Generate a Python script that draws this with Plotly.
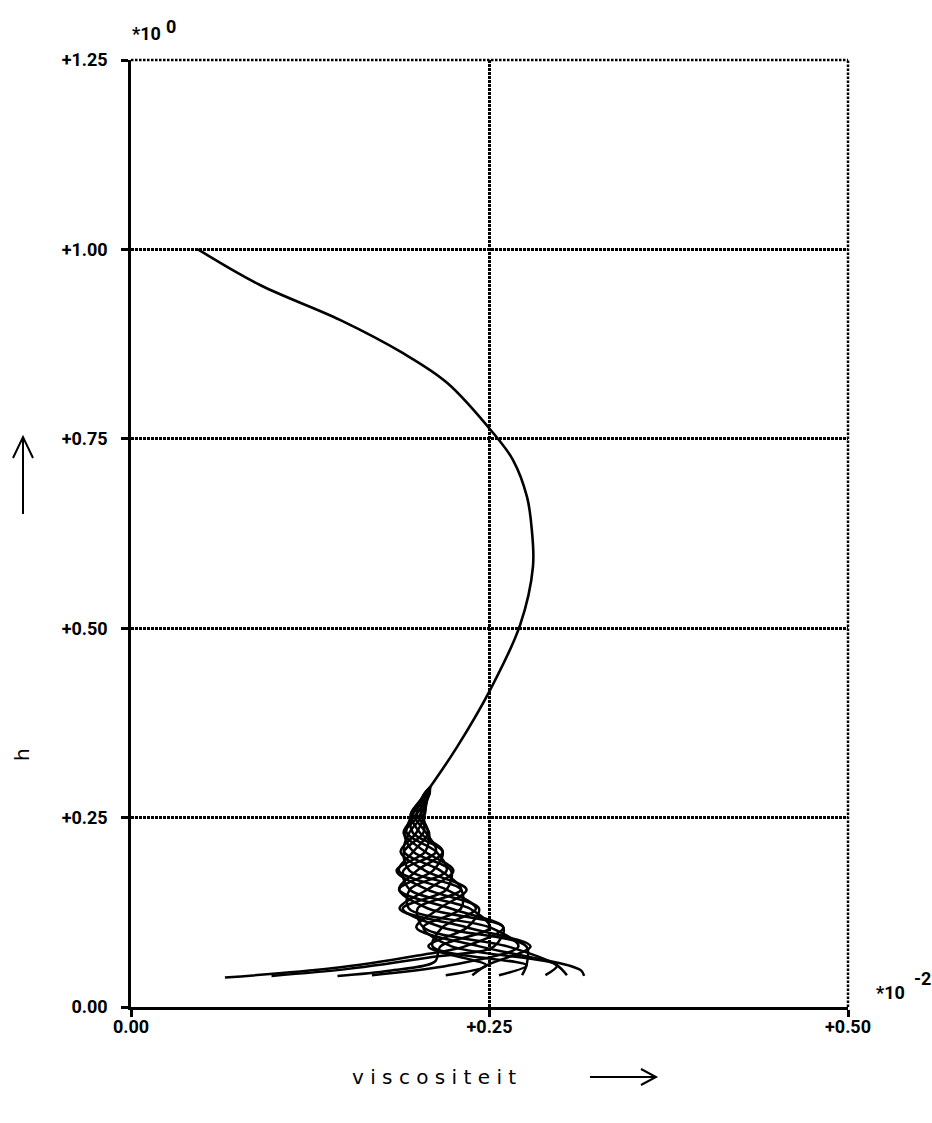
import plotly.graph_objects as go

# ---- data -------------------------------------------------------------
# upper part of the viscosity profile (common to all time levels)
H_MAIN = [1.000, 0.953, 0.907, 0.863, 0.824, 0.758, 0.722, 0.673, 0.630,
          0.581, 0.504, 0.418, 0.343, 0.290]
X_MAIN = [0.0467, 0.0900, 0.1457, 0.1897, 0.2204, 0.2524, 0.2664, 0.2762,
          0.2795, 0.2803, 0.2713, 0.2503, 0.2273, 0.2085]

# near-bed part: heights shared by all time levels
H_NEAR = [0.290, 0.280, 0.255, 0.230, 0.205, 0.180, 0.155, 0.130, 0.105, 0.080]

# viscosity at H_NEAR for each time level
X_T01 = [0.2085, 0.2060, 0.2050, 0.1990, 0.1880, 0.2050, 0.2340, 0.2150, 0.1990, 0.2430]
X_T02 = [0.2085, 0.2071, 0.2042, 0.1941, 0.1904, 0.2158, 0.2302, 0.1999, 0.2039, 0.2625]
X_T03 = [0.2085, 0.2078, 0.2021, 0.1908, 0.1968, 0.2232, 0.2200, 0.1895, 0.2171, 0.2757]
X_T04 = [0.2085, 0.2080, 0.1993, 0.1901, 0.2051, 0.2248, 0.2066, 0.1873, 0.2344, 0.2786]
X_T05 = [0.2085, 0.2075, 0.1967, 0.1922, 0.2128, 0.2201, 0.1943, 0.1938, 0.2503, 0.2702]
X_T06 = [0.2085, 0.2066, 0.1952, 0.1965, 0.2174, 0.2106, 0.1870, 0.2071, 0.2597, 0.2531]
X_T07 = [0.2085, 0.2054, 0.1952, 0.2015, 0.2174, 0.1994, 0.1870, 0.2229, 0.2597, 0.2329]
X_T08 = [0.2085, 0.2045, 0.1967, 0.2058, 0.2128, 0.1899, 0.1943, 0.2362, 0.2503, 0.2158]
X_T09 = [0.2085, 0.2040, 0.1993, 0.2079, 0.2051, 0.1852, 0.2066, 0.2427, 0.2344, 0.2074]
X_T10 = [0.2085, 0.2042, 0.2021, 0.2072, 0.1968, 0.1868, 0.2200, 0.2405, 0.2171, 0.2103]
X_T11 = [0.2085, 0.2049, 0.2042, 0.2039, 0.1904, 0.1942, 0.2302, 0.2301, 0.2039, 0.2235]

# lowest points of each time level (x, h)
TAIL_X_T01 = [0.305, 0.314, 0.316]
TAIL_H_T01 = [0.055, 0.048, 0.041]
TAIL_X_T02 = [0.2971, 0.304]
TAIL_H_T02 = [0.055, 0.042]
TAIL_X_T03 = [0.2758, 0.2727]
TAIL_H_T03 = [0.055, 0.042]
TAIL_X_T04 = [0.2479, 0.238]
TAIL_H_T04 = [0.055, 0.042]
TAIL_X_T05 = [0.2223, 0.168]
TAIL_H_T05 = [0.055, 0.042]
TAIL_X_T06 = [0.210, 0.150, 0.098]
TAIL_H_T06 = [0.066, 0.050, 0.041]
TAIL_X_T07 = [0.200, 0.140, 0.0655]
TAIL_H_T07 = [0.068, 0.051, 0.039]
TAIL_X_T08 = [0.212, 0.180, 0.144]
TAIL_H_T08 = [0.060, 0.048, 0.041]
TAIL_X_T09 = [0.2479, 0.2195]
TAIL_H_T09 = [0.055, 0.042]
TAIL_X_T10 = [0.2758, 0.2566]
TAIL_H_T10 = [0.055, 0.042]
TAIL_X_T11 = [0.2971, 0.289]
TAIL_H_T11 = [0.055, 0.042]

X_TICKS = [0.0, 0.25, 0.5]
X_TICK_TEXT = ["0.00", "+0.25", "+0.50"]
Y_TICKS = [0.0, 0.25, 0.5, 0.75, 1.0, 1.25]
Y_TICK_TEXT = ["0.00", "+0.25", "+0.50", "+0.75", "+1.00", "+1.25"]

# ---- figure -------------------------------------------------------------
W, H = 932, 1123
ML, MR, MT, MB = 131, 84, 60, 116
PW, PH = W - ML - MR, H - MT - MB


def px(x):
    return (x - ML) / PW


def py(y):
    return (H - MB - y) / PH


LINE = dict(color="black", width=2)
fig = go.Figure()

fig.add_trace(go.Scatter(x=X_MAIN, y=H_MAIN, mode="lines",
                         line=dict(color="black", width=2.6, shape="spline", smoothing=1.0),
                         hoverinfo="skip", showlegend=False))

near = [
    (X_T01, TAIL_X_T01, TAIL_H_T01), (X_T02, TAIL_X_T02, TAIL_H_T02),
    (X_T03, TAIL_X_T03, TAIL_H_T03), (X_T04, TAIL_X_T04, TAIL_H_T04),
    (X_T05, TAIL_X_T05, TAIL_H_T05), (X_T06, TAIL_X_T06, TAIL_H_T06),
    (X_T07, TAIL_X_T07, TAIL_H_T07), (X_T08, TAIL_X_T08, TAIL_H_T08),
    (X_T09, TAIL_X_T09, TAIL_H_T09), (X_T10, TAIL_X_T10, TAIL_H_T10),
    (X_T11, TAIL_X_T11, TAIL_H_T11),
]
for xs, tx, th in near:
    fig.add_trace(go.Scatter(x=xs + tx, y=H_NEAR + th, mode="lines",
                             line=dict(color="black", width=2.5, shape="spline", smoothing=0.9),
                             hoverinfo="skip", showlegend=False))

LABEL_FAMILY = "Roboto, Liberation Sans, sans-serif"
tick_font = dict(family=LABEL_FAMILY, size=18, color="black", weight="bold")
DOT = "2.5px,1.5px"

axis_common = dict(showline=True, linecolor="black", linewidth=2.5,
                   ticks="outside", ticklen=7, tickwidth=2.5, tickcolor="black",
                   showgrid=True, gridcolor="black", gridwidth=2.5, griddash=DOT,
                   zeroline=False, tickfont=tick_font, fixedrange=True)

fig.update_xaxes(range=[0, 0.5], tickvals=X_TICKS, ticktext=X_TICK_TEXT,
                 ticklabelstandoff=-5, **axis_common)
fig.update_yaxes(range=[0, 1.25], tickvals=Y_TICKS, ticktext=Y_TICK_TEXT,
                 ticklabelstandoff=10, **axis_common)

shapes = [
    # dotted frame at top and right
    dict(type="line", xref="paper", yref="paper", x0=0, x1=1, y0=1, y1=1,
         line=dict(color="black", width=2.5, dash=DOT)),
    dict(type="line", xref="paper", yref="paper", x0=1, x1=1, y0=0, y1=1,
         line=dict(color="black", width=2.5, dash=DOT)),
    # arrow next to the x title
    dict(type="line", xref="paper", yref="paper", x0=px(590), x1=px(656),
         y0=py(1077), y1=py(1077), line=LINE),
    dict(type="path", xref="paper", yref="paper",
         path=f"M {px(641)},{py(1069)} L {px(656)},{py(1077)} L {px(641)},{py(1085)}",
         line=LINE),
    # arrow next to the y title
    dict(type="line", xref="paper", yref="paper", x0=px(23), x1=px(23),
         y0=py(514), y1=py(437), line=LINE),
    dict(type="path", xref="paper", yref="paper",
         path=f"M {px(13)},{py(458)} L {px(23)},{py(437)} L {px(33)},{py(458)}",
         line=LINE),
]

lab_font = dict(family=LABEL_FAMILY, size=18, color="black", weight="bold")


def note(text, x, y, font, **kw):
    return dict(text=text, xref="paper", yref="paper", x=px(x), y=py(y),
                showarrow=False, font=font, xanchor="center", yanchor="middle", **kw)


annotations = [
    note("*10", 146, 33, lab_font),
    note("0", 171, 26, lab_font),
    note("*10", 890, 992, lab_font),
    note("-2", 922, 978, lab_font),
    note("v i s c o s i t e i t", 434, 1077,
         dict(family="DejaVu Sans, sans-serif", size=20, color="black")),
    note("h", 22, 755, dict(family="DejaVu Sans, sans-serif", size=20, color="black"),
         textangle=-90),
]

fig.update_layout(width=W, height=H, margin=dict(l=ML, r=MR, t=MT, b=MB),
                  paper_bgcolor="white", plot_bgcolor="white",
                  shapes=shapes, annotations=annotations, showlegend=False)

fig.write_html("out.html")
